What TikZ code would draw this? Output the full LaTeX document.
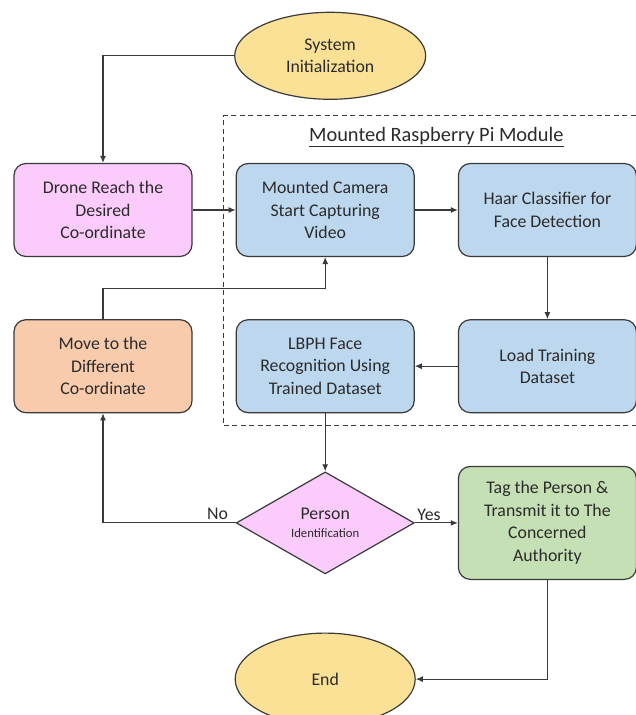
\documentclass[tikz,border=0pt]{standalone}
\usepackage{fontspec}
\setmainfont{Carlito}
\usepackage{tikz}
\usetikzlibrary{positioning}
\usetikzlibrary{arrows.meta,arrows}
\usetikzlibrary{shapes.geometric,fit,calc}
\usepackage{xcolor}
\definecolor{StartColor}{HTML}{FBE196}
\definecolor{PinkColor}{HTML}{FBCBFB}
\definecolor{PiColor}{HTML}{BDD7EE}
\definecolor{MoveColor}{HTML}{F8CBAD}
\definecolor{TagColor}{HTML}{C5E0B4}
\definecolor{EdgeColor}{HTML}{3A3A3A}
\definecolor{TextColor}{HTML}{2B2B2B}

\begin{document}
\begin{tikzpicture}[x=1pt,y=1pt,
		every node/.style={font=\fontsize{17.8pt}{22.5pt}\selectfont, text=TextColor},
		block/.style={draw=EdgeColor, line width=1.2pt, rounded corners=12pt, fill=PiColor,
			minimum width=178pt, minimum height=93pt, align=center},
		term/.style={draw=EdgeColor, line width=1.2pt, ellipse, fill=StartColor, align=center},
		decision/.style={draw=EdgeColor, line width=1.2pt, diamond, fill=PinkColor, aspect=1.75,
			inner sep=0pt, minimum width=178pt, minimum height=102pt, align=center},
		frame/.style={draw=EdgeColor, dash pattern=on 5pt off 3.5pt, line width=0.9pt, inner sep=12pt},
		arr/.style={-{Latex[length=7pt,width=6pt]}, line width=1.1pt, draw=EdgeColor}]
				\useasboundingbox (0,0) rectangle (636,-715);

				\node[block, fill=PinkColor] (drone) at (103,-210) {Drone Reach the\\Desired\\Co-ordinate};
				\node[block, right=43pt of drone] (camera) {Mounted Camera\\Start Capturing\\Video};
				\node[block, right=43pt of camera] (haar) {Haar Classifier for\\Face Detection};
				\node[block, below=62pt of haar] (load) {Load Training\\Dataset};
				\node[block, left=43pt of load] (lbph) {LBPH Face\\Recognition Using\\Trained Dataset};
				\node[block, left=43pt of lbph, fill=MoveColor] (move) {Move to the\\Different\\Co-ordinate};
				\node[term, above=63pt of camera, xshift=5pt, minimum width=191pt, minimum height=87pt] (init) {System\\Initialization};
				\node[decision, below=58pt of lbph] (dec) {Person\\[-4pt]{\fontsize{12.7pt}{15pt}\selectfont Identification}};
				\node[block, right=43pt of dec, fill=TagColor, minimum height=113pt] (tag) {Tag the Person \&\\Transmit it to The\\Concerned\\Authority};
				\node[term, below=58pt of dec, minimum width=180pt, minimum height=92pt] (end) {End};

				\node[font=\fontsize{20.4pt}{24pt}\selectfont] (title) at ($(camera.north)!.5!(haar.north)+(0,26)$) {\underline{Mounted Raspberry Pi Module}};
				\coordinate[above=35pt of camera.north] (ftop);
				\node[frame, fit=(ftop)(camera)(load)] (pimodule) {};
				\coordinate[above=31pt of move.north] (back);

				\draw[arr] (init) -| (drone);
				\draw[arr] (drone) -- (camera);
				\draw[arr] (camera) -- (haar);
				\draw[arr] (haar) -- (load);
				\draw[arr] (load) -- (lbph);
				\draw[arr] (lbph) -- (dec);
				\draw[arr] (dec) -| node[pos=0, above left, inner sep=3pt, xshift=-4pt] {No} (move);
				\draw[arr] (dec) -- node[pos=0, above right, inner sep=2pt] {Yes} (tag);
				\draw[arr] (tag) |- (end);
				\draw[arr] (move) -- (back) -| (camera);

			\end{tikzpicture}
\end{document}
